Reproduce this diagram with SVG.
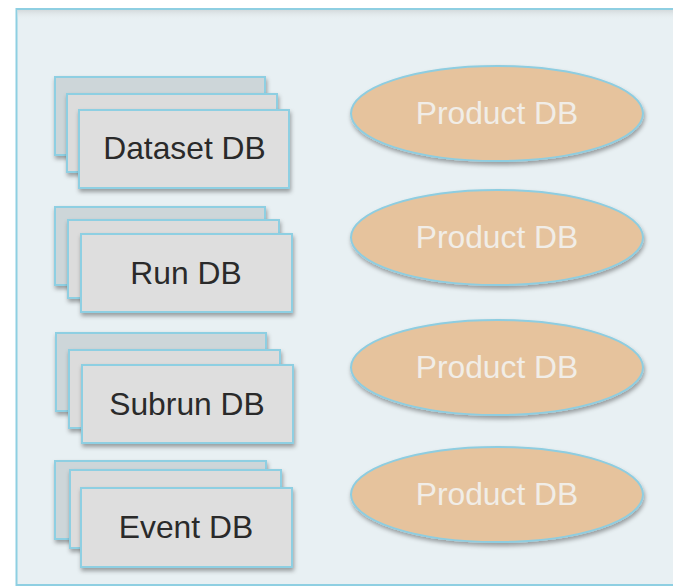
<svg xmlns="http://www.w3.org/2000/svg" width="673" height="586" viewBox="0 0 673 586">
<defs>
<filter id="sh" x="-10%" y="-10%" width="130%" height="140%">
<feDropShadow dx="1" dy="3" stdDeviation="2" flood-color="#000" flood-opacity="0.35"/>
</filter>
<linearGradient id="topshade" x1="0" y1="0" x2="0" y2="1">
<stop offset="0" stop-color="#d4dadc"/>
<stop offset="1" stop-color="#e8f0f3" stop-opacity="0"/>
</linearGradient>
</defs>
<style>
.bg{fill:#e8f0f3;stroke:#8ecfe2;stroke-width:2}
.r0{fill:#cdd6d9;stroke:#8ecfe2;stroke-width:2;filter:url(#sh)}
.r1{fill:#dcdcdc;stroke:#8ecfe2;stroke-width:2;filter:url(#sh)}
.r2{fill:#dedede;stroke:#8ecfe2;stroke-width:2;filter:url(#sh)}
.el{fill:#e6c39d;stroke:#8ecde0;stroke-width:2;filter:url(#sh)}
.t{font-family:"Liberation Sans",Arial,sans-serif;font-size:31.8px;text-anchor:middle;fill:#2a2a2a}
.tp{font-family:"Liberation Sans",Arial,sans-serif;font-size:31.8px;text-anchor:middle;fill:#f1ede7}
</style>
<rect x="0" y="0" width="673" height="586" fill="#ffffff"/>
<rect class="bg" x="16.5" y="9" width="670" height="576"/>
<rect x="17.5" y="10" width="660" height="10" fill="url(#topshade)"/>
<g id="dataset">
<rect class="r0" x="55" y="77" width="210" height="78"/>
<rect class="r1" x="67" y="94" width="210" height="78"/>
<rect class="r2" x="79" y="110" width="210" height="78"/>
<text class="t" x="184.5" y="158.5">Dataset DB</text>
</g>
<g id="run">
<rect class="r0" x="55" y="207" width="210" height="78"/>
<rect class="r1" x="68" y="220" width="211" height="78"/>
<rect class="r2" x="81" y="234" width="211" height="78"/>
<text class="t" x="186" y="283.5">Run DB</text>
</g>
<g id="subrun">
<rect class="r0" x="56" y="333" width="210" height="78"/>
<rect class="r1" x="69" y="350" width="211" height="78"/>
<rect class="r2" x="82" y="365" width="211" height="78"/>
<text class="t" x="187" y="414.5">Subrun DB</text>
</g>
<g id="event">
<rect class="r0" x="55" y="461" width="211" height="78"/>
<rect class="r1" x="70" y="470" width="211" height="78"/>
<rect class="r2" x="81" y="488" width="211" height="79"/>
<text class="t" x="186" y="537.5">Event DB</text>
</g>
<g id="product1">
<ellipse class="el" cx="497" cy="113.5" rx="146" ry="47.5"/>
<text class="tp" x="497" y="123.5">Product DB</text>
</g>
<g id="product2">
<ellipse class="el" cx="497" cy="237.5" rx="146" ry="47.5"/>
<text class="tp" x="497" y="247.5">Product DB</text>
</g>
<g id="product3">
<ellipse class="el" cx="497" cy="367.5" rx="146" ry="47.5"/>
<text class="tp" x="497" y="377.5">Product DB</text>
</g>
<g id="product4">
<ellipse class="el" cx="497" cy="494.5" rx="146" ry="47.5"/>
<text class="tp" x="497" y="504.5">Product DB</text>
</g>
<g id="connectors"/>
</svg>
